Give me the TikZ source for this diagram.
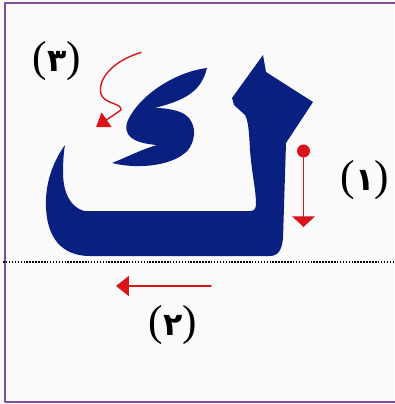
\documentclass[tikz,border=0pt]{standalone}
\usepackage{fontspec}
\newfontfamily\arabicfont[Script=Arabic]{DejaVu Sans}
\newfontfamily\parenfont{Liberation Serif}
\TeXXeTstate=1
\usetikzlibrary{arrows.meta}
\definecolor{kafblue}{HTML}{0A2080}
\definecolor{guidered}{HTML}{D9141B}
\definecolor{framepurple}{HTML}{7E4F9E}
\definecolor{paper}{HTML}{FAFAFB}
\newcommand{\digit}[1]{\beginR{\arabicfont\bfseries\fontsize{27}{27}\selectfont #1}\endR}
\begin{document}
\begin{tikzpicture}[x=0.03cm, y=-0.03cm, line join=round, line cap=round,
	stroke/.style={draw=guidered, line width=1.6pt},
	num/.style={font=\parenfont\fontsize{37}{37}\selectfont, text=black, inner sep=0pt}]
	\fill[paper] (0,0) rectangle (394,404);
	\useasboundingbox (0,0) rectangle (394,404);
	\draw[framepurple, line width=1.6pt, line cap=butt] (400,3) -- (5,3) -- (5,402) -- (400,402);
	\coordinate (L) at (3,262);
	\coordinate (R) at (394,262);
	\draw[black, line width=1.3pt, line cap=butt, dash pattern=on 1.3pt off 1.2pt] (L) -- (R);
	% the letter
	\fill[kafblue] (65,145) .. controls (52,163) and (45,185) .. (46,207) .. controls (47,238) and (62,256) .. (90,256) -- (270,256) .. controls (278,256) and (282,250) .. (283,238) -- (286,143) -- (313,102) -- (266,72) -- (263,55) -- (232,98) -- (234,105) -- (245,115) .. controls (248,120) and (249,130) .. (250,150) .. controls (252,175) and (256,190) .. (256,204) .. controls (256,209) and (254,211) .. (250,211) -- (84,211) .. controls (70,207) and (63,192) .. (63,172) .. controls (63,160) and (64,150) .. (65,145) -- cycle;
	\fill[kafblue] (207,68) .. controls (175,72) and (140,95) .. (128,120) .. controls (122,135) and (132,143) .. (157,145) .. controls (140,150) and (125,158) .. (112,163) .. controls (140,170) and (175,165) .. (188,150) .. controls (198,137) and (196,118) .. (180,112) .. controls (172,109) and (163,108) .. (155,108) .. controls (185,100) and (201,92) .. (207,68) -- cycle;
	% strokes
	\coordinate (s1) at (303.5,151);
	\coordinate (e1) at (303.5,227);
	\coordinate (s2) at (211,286);
	\coordinate (e2) at (116,286);
	\coordinate (s3) at (141,52.5);
	\coordinate (e3) at (96,127);
	\fill[guidered] (s1) circle (6.5);
	\draw[stroke, -{Triangle[length=9pt,width=19pt]}] (s1) -- (e1);
	\draw[stroke, -{Triangle[length=11pt,width=17pt]}] (s2) -- (e2);
	\draw[stroke, line width=1.2pt, -{Triangle[length=11pt,width=15pt]}] (s3) .. controls (115,60) and (97,78) .. (101,94) .. controls (104,104) and (122,103) .. (121,110) -- (e3);
	\node[num] (n3) at (57,61) {(\digit{٣})};
	\node[num] (n1) at (365,180) {(\digit{١})};
	\node[num] (n2) at (173,325) {(\digit{٢})};
\end{tikzpicture}
\end{document}
